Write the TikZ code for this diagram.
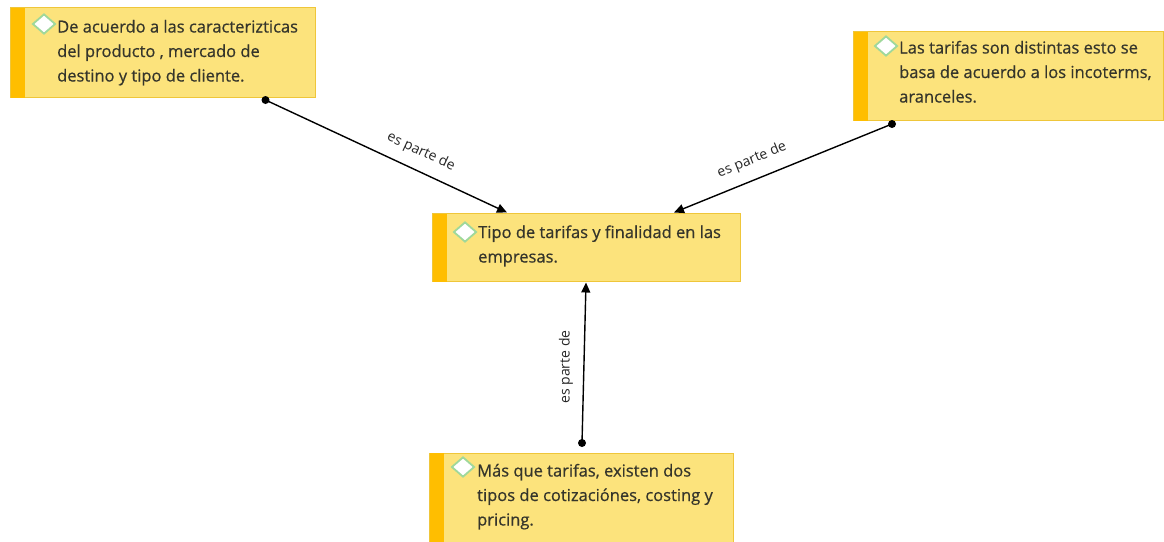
\documentclass[tikz,border=0pt]{standalone}
\usepackage{fontspec}
\setmainfont{Open Sans}
\newfontfamily\boxfont[FakeBold=0.6]{Open Sans}
\usetikzlibrary{shapes.geometric,arrows.meta}
\definecolor{boxfill}{HTML}{FCE37C}
\definecolor{boxline}{HTML}{EFC63A}
\definecolor{barcol}{HTML}{FFBE00}
\definecolor{dia}{HTML}{9FD89B}
\definecolor{txt}{HTML}{35352B}
\tikzset{
  box/.style={draw=boxline, fill=boxfill, line width=1.2pt, rectangle, inner sep=0pt, anchor=north west},
  bar/.style={fill=barcol},
  dia/.style={diamond, draw=dia, fill=white, line width=1.8pt, inner sep=0pt, minimum width=23pt, minimum height=20pt},
  txtnode/.style={anchor=base west, align=left, inner sep=0pt, text=txt, font=\boxfont\fontsize{16.5}{24.5}\selectfont},
  lbl/.style={inner sep=0pt, text=black!85, font=\fontsize{14}{16}\selectfont},
  dotnode/.style={circle, fill=black, inner sep=0pt, minimum size=8pt},
  conn/.style={line width=1.4pt, -{Triangle[length=10pt,width=9pt]}},
}
\begin{document}
\begin{tikzpicture}[x=1pt,y=-1pt]
\useasboundingbox (0,0) rectangle (1164,541);
% boxes
\node[box, minimum width=305pt, minimum height=90pt] (b1) at (10,7) {};
\fill[bar] ([shift={(0.6pt,-0.6pt)}]b1.north west) rectangle ([shift={(15pt,0.6pt)}]b1.south west);
\node[dia] (d1) at (44,24) {};
\node[txtnode] (t1) at (57,81.5) {De acuerdo a las caracterizticas\\del producto , mercado de\\destino y tipo de cliente.};

\node[box, minimum width=308pt, minimum height=68pt] (c) at (432,213) {};
\fill[bar] ([shift={(0.6pt,-0.6pt)}]c.north west) rectangle ([shift={(15pt,0.6pt)}]c.south west);
\node[dia] (dc) at (465,232) {};
\node[txtnode] (tc) at (478,262.5) {Tipo de tarifas y finalidad en las\\empresas.};

\node[box, minimum width=310pt, minimum height=89pt] (b3) at (853,31) {};
\fill[bar] ([shift={(0.6pt,-0.6pt)}]b3.north west) rectangle ([shift={(15pt,0.6pt)}]b3.south west);
\node[dia] (d3) at (886,46) {};
\node[txtnode] (t3) at (899,102.5) {Las tarifas son distintas esto se\\basa de acuerdo a los incoterms,\\aranceles.};

\node[box, minimum width=304pt, minimum height=92pt] (b4) at (429,452.5) {};
\fill[bar] ([shift={(0.6pt,-0.6pt)}]b4.north west) rectangle ([shift={(15pt,0.6pt)}]b4.south west);
\node[dia] (d4) at (463,467) {};
\node[txtnode] (t4) at (477,525.5) {Más que tarifas, existen dos\\tipos de cotizaciónes, costing y\\pricing.};

% connector ends
\node[dotnode] (p1) at (265.5,100) {};
\node[dotnode] (p3) at (892,124) {};
\node[dotnode] (p4) at (582,443) {};
\coordinate (e1) at (507,212.5);
\coordinate (e3) at (674,212.5);
\coordinate (e4) at (586,282.5);

\draw[conn] (p1.center) -- (e1);
\draw[conn] (p3.center) -- (e3);
\draw[conn] (p4.center) -- (e4);

\node[lbl, rotate=-25] (l1) at (421,152) {es parte de};
\node[lbl, rotate=22] (l3) at (752,160) {es parte de};
\node[lbl, rotate=90] (l4) at (566,367) {es parte de};
\end{tikzpicture}
\end{document}
